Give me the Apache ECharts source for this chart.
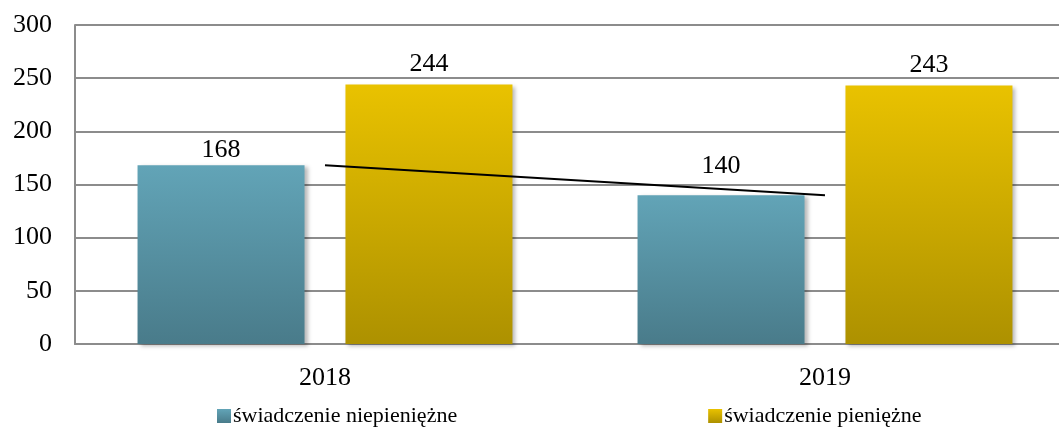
<!DOCTYPE html>
<html>
<head>
<meta charset="utf-8">
<script src="https://cdn.jsdelivr.net/npm/echarts@6/dist/echarts.min.js"></script>
<style>
  html, body { margin: 0; padding: 0; background: #fff; overflow: hidden; }
  /* plot area runs past the right edge of the window */
  #chart { width: 1075px; height: 429px; }
</style>
</head>
<body>
<div id="chart"></div>
<script>
// Benefit counts per year
const years = ['2018', '2019'];
const nonCash = [168, 140];   // świadczenie niepieniężne
const cash = [244, 243];      // świadczenie pieniężne
const trend = [168, 140];     // line joining the non-cash values
const yTicks = { min: 0, max: 300, interval: 50 };

const FONT = '"Liberation Serif", "Times New Roman", serif';

const blueGrad = new echarts.graphic.LinearGradient(0, 0, 0, 1, [
  { offset: 0, color: '#62a4b7' },
  { offset: 1, color: '#497b8a' }
]);
const goldGrad = new echarts.graphic.LinearGradient(0, 0, 0, 1, [
  { offset: 0, color: '#e9c200' },
  { offset: 1, color: '#ad9100' }
]);

const barShadow = {
  shadowBlur: 4,
  shadowOffsetX: 3,
  shadowOffsetY: 2,
  shadowColor: 'rgba(0,0,0,0.28)'
};

// the 2019 non-cash label sits higher so the trend line does not cross it
const nonCashData = nonCash.map((v, i) =>
  i === 1 ? { value: v, label: { distance: 16 } } : v
);

const chart = echarts.init(document.getElementById('chart'), null, { renderer: 'canvas' });
chart.setOption({
  animation: false,
  backgroundColor: '#ffffff',
  grid: { left: 75, top: 25, bottom: 85, right: 0, containLabel: false },
  legend: {
    data: ['świadczenie niepieniężne', 'świadczenie pieniężne'],
    left: 212,
    top: 400,
    itemWidth: 14,
    itemHeight: 14,
    itemGap: 251,
    icon: 'rect',
    textStyle: { fontFamily: FONT, fontSize: 22, color: '#000', padding: [0, 0, 0, -3] }
  },
  xAxis: {
    type: 'category',
    data: years,
    axisLine: { show: true, lineStyle: { color: '#8c8c8c', width: 2 } },
    axisTick: { show: false },
    axisLabel: { fontFamily: FONT, fontSize: 26, color: '#000', margin: 21 }
  },
  yAxis: {
    type: 'value',
    min: yTicks.min,
    max: yTicks.max,
    interval: yTicks.interval,
    axisLine: { show: true, lineStyle: { color: '#8c8c8c', width: 2 } },
    axisTick: { show: false },
    splitLine: { lineStyle: { color: '#8c8c8c', width: 2 } },
    axisLabel: { fontFamily: FONT, fontSize: 26, color: '#000', margin: 23 }
  },
  series: [
    {
      name: 'świadczenie niepieniężne',
      type: 'bar',
      data: nonCashData,
      barWidth: 167,
      barGap: '24.5%',
      itemStyle: Object.assign({ color: blueGrad }, barShadow),
      label: { show: true, position: 'top', distance: 2, fontFamily: FONT, fontSize: 26, color: '#000' }
    },
    {
      name: 'świadczenie pieniężne',
      type: 'bar',
      data: cash,
      barWidth: 167,
      barGap: '24.5%',
      itemStyle: Object.assign({ color: goldGrad }, barShadow),
      label: { show: true, position: 'top', distance: 7, fontFamily: FONT, fontSize: 26, color: '#000' }
    },
    {
      name: 'trend',
      type: 'line',
      data: trend,
      symbol: 'none',
      z: 5,
      lineStyle: { color: '#000', width: 2 },
      silent: true
    }
  ]
});
</script>
</body>
</html>
